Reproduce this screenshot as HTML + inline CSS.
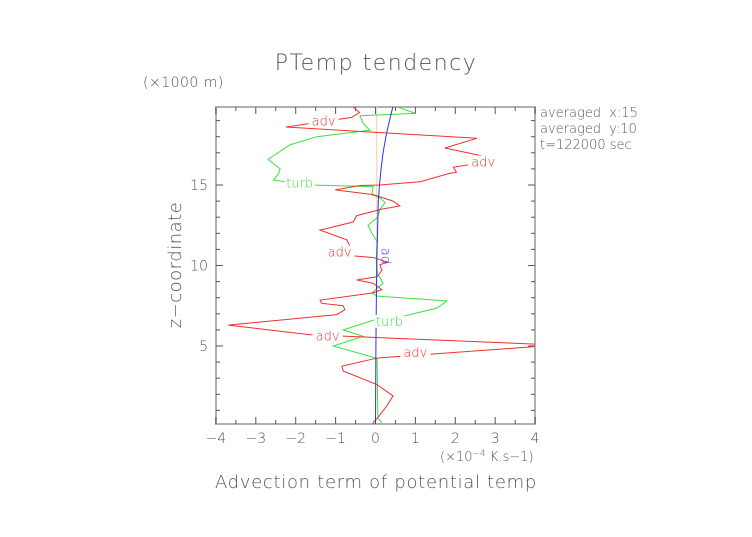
<!DOCTYPE html>
<html><head><meta charset="utf-8"><style>
html,body{margin:0;padding:0;background:#fff;}
svg text{font-family:"DejaVu Sans","Liberation Sans",sans-serif;fill:#555;font-weight:200;}
</style></head><body>
<svg id="chart" width="752" height="532" viewBox="0 0 752 532" xmlns="http://www.w3.org/2000/svg">
<defs><clipPath id="pc"><rect x="216" y="107" width="319" height="317"/></clipPath>
<clipPath id="tc"><rect x="536" y="95" width="104" height="70"/></clipPath></defs>
<text x="376" y="70" font-size="22" text-anchor="middle" letter-spacing="1.5">PTemp tendency</text>
<text x="143" y="87" font-size="14" letter-spacing="0.5">(×1000 m)</text>
<text transform="translate(181,265) rotate(-90)" font-size="18" text-anchor="middle" letter-spacing="0.5">z−coordinate</text>
<text x="376" y="488" font-size="18" text-anchor="middle" letter-spacing="0.7">Advection term of potential temp</text>
<text x="440" y="461" font-size="13">(×10<tspan dy="-5" font-size="9">−4</tspan><tspan dy="5"> K.s−1)</tspan></text>
<g clip-path="url(#tc)" font-size="13" xml:space="preserve">
<text x="540" y="117" xml:space="preserve">averaged  x:15</text>
<text x="540" y="133" xml:space="preserve">averaged  y:10</text>
<text x="540" y="149">t=122000 sec</text>
</g>
<g id="axes"></g>
<g id="series" clip-path="url(#pc)"></g>
<g id="labels"></g>
</svg>
<script>
const xTicks=[-4,-3,-2,-1,0,1,2,3,4];
const yTicks=[5,10,15];
const advZ=[19.85,19.5,19.2,18.6,17.9,17.3,16.6,16.3,16.1,15.8,15.7,15.2,15.0,14.97,14.7,14.4,14.0,13.7,13.5,13.1,12.7,12.2,11.6,11.2,11.0,10.6,10.5,10.2,10.05,9.7,9.3,9.1,8.9,8.5,8.3,7.85,7.65,7.5,7.25,6.95,6.3,5.7,5.1,4.95,4.25,3.75,3.45,2.6,1.9,1.3,0.5,0.25,0.1];
const advX=[-0.56,-0.4,-0.6,-2.24,2.54,1.74,3.07,2.45,1.95,2.03,1.82,1.12,0.11,-0.39,-1.01,-0.06,0.44,0.61,0.16,-0.47,-0.56,-1.39,-0.72,-0.64,-1.14,-0.56,-0.06,0.31,0.11,0.16,0.04,-0.47,-0.06,0.16,-0.06,-1.39,-1.35,-0.81,-0.77,-0.97,-3.69,-1.64,4.15,3.95,0.04,-0.84,-0.81,0.04,0.44,0.29,0.04,-0.06,-0.05];
const turbZ=[19.9,19.9,19.45,19.3,18.8,18.4,18.0,17.5,16.6,16.0,15.7,15.3,15.0,14.9,14.4,14.2,13.9,13.5,13.0,12.5,12.0,11.5,10.5,9.5,8.9,8.3,8.1,7.8,7.35,6.8,6.6,6.0,5.6,5.0,4.3,4.2,2.0,0.5,0.25];
const turbX=[-1.31,0.5,1.0,-0.39,-0.3,-0.14,-1.47,-2.14,-2.69,-2.39,-2.43,-2.56,-1.64,-0.06,-0.09,0.11,0.24,0.11,0.06,-0.19,-0.09,0.04,0.02,0.05,0.19,-0.09,0.04,1.79,1.54,0.61,-0.06,-0.81,-0.31,-1.06,-0.06,0.04,0.05,0.06,0.16];
const adZ=[0.1,5,10,12,14,15,16,17,18,19,19.9];
const adX=[0.0,0.01,0.03,0.05,0.07,0.1,0.14,0.19,0.26,0.35,0.44];
const dotZ=[10,19.9];
const dotX=[0.03,0.03];
const xs=v=>375.5+v*39.9;
const ys=v=>426.5-v*16.1;
const NS="http://www.w3.org/2000/svg";
function mk(t,a,p){const e=document.createElementNS(NS,t);for(const k in a)e.setAttribute(k,a[k]);p.appendChild(e);return e;}
const ax=document.getElementById('axes');
const fr=mk('rect',{x:216,y:107,width:319,height:317,fill:'none',stroke:'#b0b0b0','stroke-width':2},ax);


for(let v=-4;v<=4.001;v+=0.5){const x=xs(v);const L=Number.isInteger(v)?7:4;
 mk('line',{x1:x,y1:424,x2:x,y2:424-L,stroke:'#555'},ax);mk('line',{x1:x,y1:107,x2:x,y2:107+L,stroke:'#555'},ax);}
for(let v=1;v<=19;v++){const y=ys(v);const L=v%5==0?7:4;
 mk('line',{x1:216,y1:y,x2:216+L,y2:y,stroke:'#555'},ax);mk('line',{x1:535,y1:y,x2:535-L,y2:y,stroke:'#555'},ax);}
xTicks.forEach(v=>{const t=mk('text',{x:xs(v),y:443,'font-size':14,'text-anchor':'middle'},ax);t.textContent=(v<0?'−':'')+Math.abs(v);
 
 });
yTicks.forEach(v=>{const t=mk('text',{x:208,y:ys(v)+5,'font-size':14,'text-anchor':'end'},ax);t.textContent=v;
 
 });
const se=document.getElementById('series');
function line(X,Z,c,extra){return mk('polyline',Object.assign({points:X.map((x,i)=>xs(x)+','+ys(Z[i])).join(' '),fill:'none',stroke:c,'stroke-width':1},extra||{}),se);}
const d=line(dotX,dotZ,'#f8dcc0',{'stroke-width':1.5});


const g=line(turbX,turbZ,'#3de03d');


const r=line(advX,advZ,'#f03030');


const b=line(adX,adZ,'#3030f0');


const lb=document.getElementById('labels');
[['adv',-1.3,18.95,'#f03030'],['adv',2.7,16.4,'#f03030'],['adv',-0.9,10.8,'#f03030'],['adv',-1.2,5.6,'#f03030'],['adv',1.0,4.55,'#f03030'],['turb',-1.9,15.1,'#3de03d'],['turb',0.35,6.5,'#3de03d']].forEach(a=>{
 const bg=mk('rect',{x:xs(a[1])-15,y:ys(a[2])-7,width:30,height:13,fill:'#fff'},lb);
 
 
 const t=mk('text',{x:xs(a[1]),y:ys(a[2])+4,'font-size':13,'text-anchor':'middle',style:'fill:'+a[3]},lb);t.textContent=a[0];
 
 });
const ad=mk('text',{x:0,y:0,'font-size':13,'text-anchor':'middle',style:'fill:#3030f0',transform:'translate('+(xs(0.05)+4)+','+ys(10.6)+') rotate(90)'},lb);ad.textContent='ad';


</script>
</body></html>
